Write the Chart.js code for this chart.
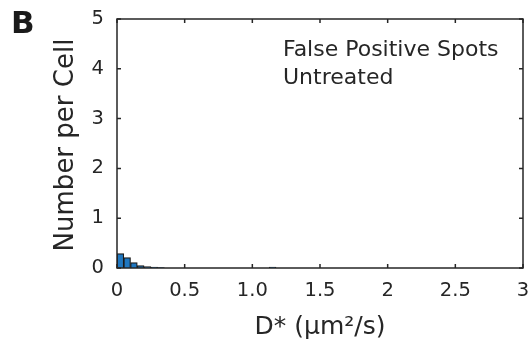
<!DOCTYPE html>
<html>
<head>
<meta charset="utf-8">
<script src="https://cdn.jsdelivr.net/npm/chart.js@4/dist/chart.umd.min.js"></script>
<style>
  html, body { margin: 0; padding: 0; background: #fff; }
  #wrap { width: 529px; height: 347px; position: relative; }
</style>
</head>
<body>
<div id="wrap"><canvas id="histD"></canvas></div>
<script>
'use strict';

// histogram of D* for false positive spots (bin width 0.05)
var binCenters = [0.025, 0.075, 0.125, 0.175, 0.225, 0.275, 0.325, 1.15];
var counts     = [0.29, 0.21, 0.11, 0.05, 0.03, 0.02, 0.01, 0.02];
var xTickLabels = ['0', '0.5', '1.0', '1.5', '2', '2.5', '3'];
var yTickLabels = ['0', '1', '2', '3', '4', '5'];

var axisColor = '#262626';
var barFill = '#1f77c0';
var font = '"DejaVu Sans", "Liberation Sans", sans-serif';

// box with inward ticks on all four sides, plus panel letter, note and axis titles
var boxPlugin = {
    id: 'boxPlugin',
    afterDatasetsDraw: function (chart) {
        var ctx = chart.ctx, a = chart.chartArea;
        var xs = chart.scales.x, ys = chart.scales.y;
        var tl = 4;
        ctx.save();
        ctx.strokeStyle = axisColor;
        ctx.lineWidth = 1.5;
        ctx.strokeRect(a.left, a.top, a.right - a.left, a.bottom - a.top);
        ctx.beginPath();
        xs.ticks.forEach(function (t) {
            var px = xs.getPixelForValue(t.value);
            ctx.moveTo(px, a.bottom); ctx.lineTo(px, a.bottom - tl);
            ctx.moveTo(px, a.top); ctx.lineTo(px, a.top + tl);
        });
        ys.ticks.forEach(function (t) {
            var py = ys.getPixelForValue(t.value);
            ctx.moveTo(a.left, py); ctx.lineTo(a.left + tl, py);
            ctx.moveTo(a.right, py); ctx.lineTo(a.right - tl, py);
        });
        ctx.stroke();

        ctx.fillStyle = '#1a1a1a';
        ctx.font = 'bold 31px ' + font;
        ctx.textAlign = 'left';
        ctx.textBaseline = 'alphabetic';
        ctx.fillText('B', 11, 33);

        ctx.fillStyle = axisColor;
        ctx.font = '22px ' + font;
        ctx.fillText('False Positive Spots', 283, 56);
        ctx.fillText('Untreated', 283, 84);

        ctx.font = '25px ' + font;
        ctx.textAlign = 'center';
        ctx.fillText('D* (\u03bcm\u00b2/s)', (a.left + a.right) / 2, 334);

        ctx.font = '26px ' + font;
        ctx.translate(73, 145);
        ctx.rotate(-Math.PI / 2);
        ctx.fillText('Number per Cell', 0, 0);
        ctx.restore();
    }
};

var chart = new Chart(document.getElementById('histD'), {
    type: 'bar',
    data: {
        datasets: [{
            data: binCenters.map(function (c, i) { return { x: c, y: counts[i] }; }),
            backgroundColor: barFill,
            borderColor: '#1a1a1a',
            borderWidth: 1.2,
            barPercentage: 1,
            categoryPercentage: 1
        }]
    },
    options: {
        responsive: true,
        maintainAspectRatio: false,
        animation: false,
        layout: { padding: { top: 19, right: 6, left: 0, bottom: 0 } },
        plugins: { legend: { display: false }, tooltip: { enabled: false } },
        scales: {
            x: {
                type: 'linear',
                min: 0, max: 3,
                offset: false,
                grid: { display: false, offset: false, drawTicks: false },
                border: { display: false },
                ticks: {
                    stepSize: 0.5,
                    maxRotation: 0,
                    padding: 11,
                    color: axisColor,
                    font: { family: font, size: 19.5 },
                    callback: function (v) { return xTickLabels[Math.round(v / 0.5)]; }
                },
                afterFit: function (s) {
                    s.height = 79;
                    s.paddingLeft = 0;
                    s.paddingRight = 0;
                }
            },
            y: {
                min: 0, max: 5,
                grid: { display: false, drawTicks: false },
                border: { display: false },
                ticks: {
                    stepSize: 1,
                    padding: 13,
                    color: axisColor,
                    font: { family: font, size: 19.5 },
                    callback: function (v) { return yTickLabels[v]; }
                },
                afterFit: function (s) {
                    s.width = 117;
                    s.paddingTop = 0;
                    s.paddingBottom = 0;
                }
            }
        }
    },
    plugins: [boxPlugin]
});
</script>
</body>
</html>
